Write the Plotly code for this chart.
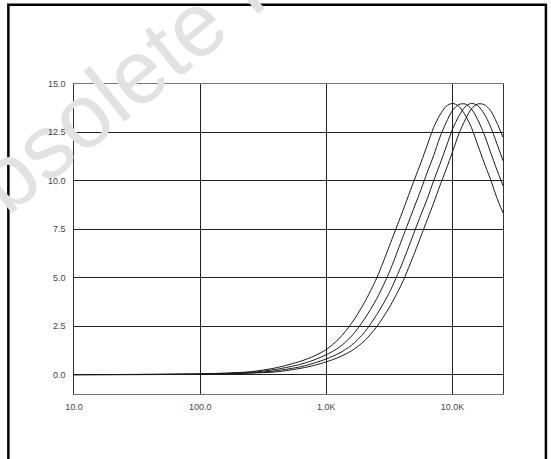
import plotly.graph_objects as go

# Frequency points (Hz) shared by all four curves
freq_hz = [10, 31.6, 100, 158, 251, 398, 631, 794, 1000, 1259, 1585, 1995,
           2512, 3162, 3981, 5012, 5623, 6310, 7079, 7943, 8913, 10000,
           11220, 12589, 14125, 15849, 17783, 19953, 22387, 25119]

# Gain readings for each curve
gain_1 = [0.0, 0.01, 0.04, 0.08, 0.15, 0.35, 0.70, 0.95, 1.30, 1.85, 2.65, 3.70,
          5.00, 6.65, 8.35, 10.1, 10.95, 11.85, 12.75, 13.40, 13.85, 14.0,
          13.85, 13.40, 12.75, 11.85, 10.95, 10.1, 9.15, 8.35]
gain_2 = [0.0, 0.01, 0.03, 0.06, 0.12, 0.27, 0.54, 0.75, 1.03, 1.40, 1.99, 2.85,
          3.93, 5.30, 7.00, 8.70, 9.55, 10.45, 11.3, 12.25, 13.02, 13.64,
          13.94, 13.97, 13.72, 13.15, 12.42, 11.5, 10.6, 9.75]
gain_3 = [0.0, 0.005, 0.02, 0.05, 0.09, 0.20, 0.41, 0.59, 0.81, 1.10, 1.52, 2.17,
          3.10, 4.24, 5.72, 7.41, 8.26, 9.08, 10.0, 10.86, 11.76, 12.67,
          13.34, 13.82, 14.0, 13.88, 13.47, 12.82, 11.95, 11.04]
gain_4 = [0.0, 0.0, 0.02, 0.04, 0.08, 0.14, 0.33, 0.47, 0.66, 0.90, 1.23, 1.73,
          2.48, 3.48, 4.72, 6.30, 7.15, 8.00, 8.85, 9.75, 10.6, 11.5,
          12.42, 13.15, 13.72, 13.97, 13.94, 13.64, 13.02, 12.25]

x_tickvals = [10, 100, 1000, 10000]
x_ticktext = ["10.0", "100.0", "1.0K", "10.0K"]
y_tickvals = [0, 2.5, 5, 7.5, 10, 12.5, 15]
y_ticktext = ["0.0", "2.5", "5.0", "7.5", "10.0", "12.5", "15.0"]

fig = go.Figure()

for g in [gain_1, gain_2, gain_3, gain_4]:
    fig.add_trace(go.Scatter(
        x=freq_hz,
        y=g,
        mode='lines',
        line=dict(color='#1a1a1a', width=1, shape='spline', smoothing=0.8),
        showlegend=False,
        hoverinfo='skip'
    ))

# Outer frame round the page
fig.add_shape(type='rect', xref='paper', yref='paper',
              x0=-0.153, x1=1.1, y0=-0.3, y1=1.256,
              line=dict(color='black', width=2.5), layer='above')

# Faint watermark (added first so the tick labels sit on top of it)
fig.add_annotation(
    text="Obsolete Product(s)", xref='paper', yref='paper',
    x=0.397, y=1.32, xanchor='center', yanchor='middle',
    textangle=-39, showarrow=False,
    font=dict(size=90, color='#e2e2e2', family='Liberation Sans')
)

# Y tick labels as annotations, drawn above the watermark
for v, t in zip(y_tickvals, y_ticktext):
    fig.add_annotation(
        text=t, xref='paper', yref='y', x=0, y=v,
        xanchor='right', yanchor='middle', xshift=-6,
        showarrow=False,
        font=dict(size=9, color='#444444', family='Liberation Sans')
    )

fig.update_layout(
    width=551, height=459,
    margin=dict(l=74, r=48, t=84, b=65),
    plot_bgcolor='white',
    paper_bgcolor='white',
    font=dict(family='Liberation Sans', size=9, color='#444444'),
)

fig.update_xaxes(
    type='log', range=[1, 4.4],
    tickvals=x_tickvals, ticktext=x_ticktext,
    showgrid=True, gridcolor='#222222', gridwidth=1,
    showline=True, linecolor='#777777', linewidth=1, mirror=True,
    ticks='outside', ticklen=4, tickcolor='rgba(0,0,0,0)',
    zeroline=False
)
fig.update_yaxes(
    range=[-1, 15],
    tickvals=y_tickvals, showticklabels=False,
    showgrid=True, gridcolor='#222222', gridwidth=1,
    showline=True, linecolor='#333333', linewidth=1, mirror=True,
    zeroline=False
)

fig.write_html("out.html", config={'displayModeBar': False},
               post_script="document.body.style.margin='0';")
